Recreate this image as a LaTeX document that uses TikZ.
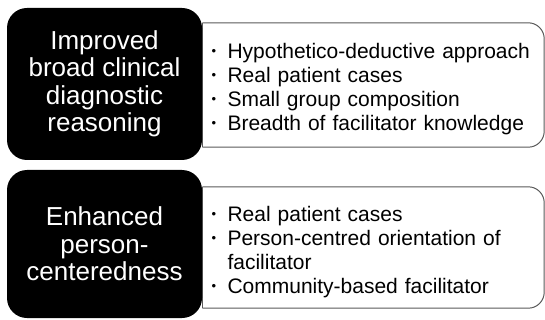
\documentclass[tikz,border=0pt]{standalone}
\usepackage{fontspec}
\setmainfont{Liberation Sans}
\newcommand\bitem[1]{\par\hangindent=19pt\hangafter=1\noindent\makebox[19pt][l]{\hspace{3pt}\raisebox{3pt}{\fontsize{13}{13}\selectfont\textbullet}}#1} % пункт списка
\begin{document}
\begin{tikzpicture}[x=1pt,y=-1pt] % координаты как в пикселях
\tikzstyle{outcome} = [fill=black, text=white, rounded corners=20pt, minimum width=195pt, align=center, inner sep=0pt, font=\fontsize{26}{27.5}\selectfont] % black result box
\tikzstyle{factors} = [fill=white, text=black, inner xsep=6pt, inner ysep=0pt, text width=329.5pt, align=left, font=\fontsize{21}{24}\selectfont] % list box
\tikzstyle{frame} = [draw=black!65, line width=1pt] % рамка списка
\useasboundingbox (0,0) rectangle (545,320);

% списки
\node[factors, minimum height=124pt] (w1) at (373.25,85) {\bitem{Hypothetico-deductive approach}\bitem{Real patient cases}\bitem{Small group composition}\bitem{Breadth of facilitator knowledge}};
\node[factors, minimum height=121pt] (w2) at (373.25,247.5) {\bitem{Real patient cases}\bitem{Person-centred orientation of\newline facilitator}\bitem{Community-based facilitator}};
\foreach \w in {w1,w2} {
  \draw[frame] (\w.north west) -- (\w.south west);
  \draw[frame, rounded corners=16pt] (\w.north west) -- (\w.north east) -- (\w.south east) -- (\w.south west);
}

% результаты
\node[outcome, minimum height=152pt] (b1) at (104.5,84) {Improved\\broad clinical\\diagnostic\\reasoning};
\node[outcome, minimum height=148pt] (b2) at (104.5,244) {Enhanced\\person-\\centeredness};
\end{tikzpicture}
\end{document}
